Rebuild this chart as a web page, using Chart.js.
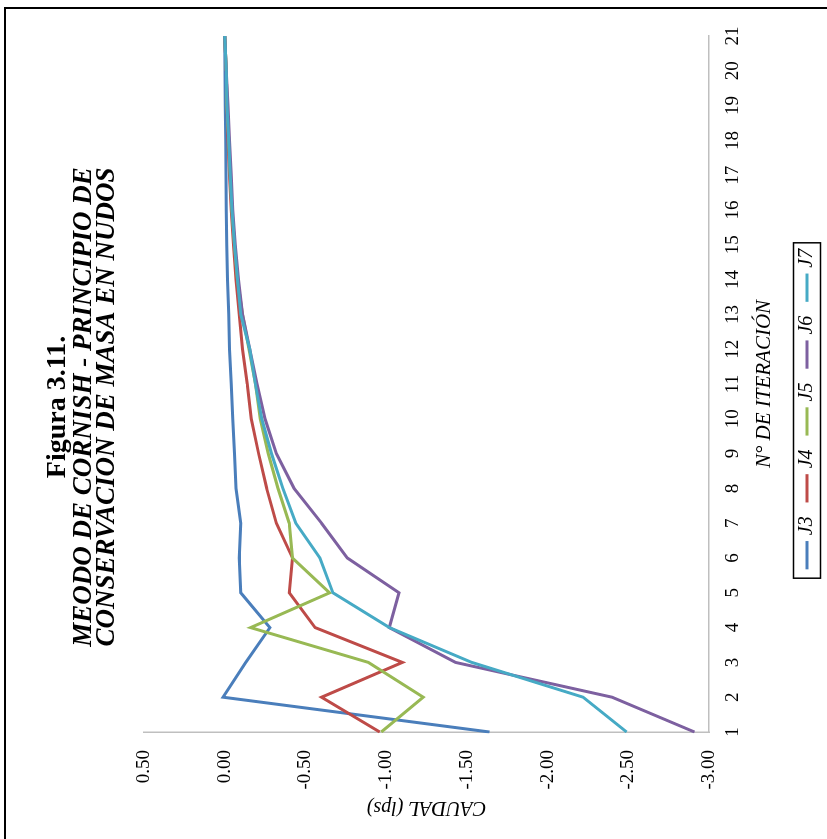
<!DOCTYPE html>
<html>
<head>
<meta charset="utf-8">
<script src="https://cdn.jsdelivr.net/npm/chart.js@4.4.1/dist/chart.umd.min.js"></script>
<style>
    html, body { margin: 0; padding: 0; background: #fff; overflow: hidden; }
    /* chart is drawn upright, then turned a quarter to the left like the scan */
    #wrap {
        position: absolute;
        left: 0; top: 0;
        width: 839px; height: 827px;
        transform-origin: top left;
        transform: translateY(839px) rotate(-90deg);
        background: #fff;
    }
    #frame {
        position: absolute;
        top: 4px; right: 7px;
        width: 900px; height: 900px;
        border-top: 2px solid #000;
        border-right: 2px solid #000;
        pointer-events: none;
    }
    canvas { position: absolute; left: 0; top: 0; }
</style>
</head>
<body>
<div id="wrap">
    <canvas id="cornishChart" width="839" height="827"></canvas>
    <div id="frame"></div>
</div>
<script>
// N° de iteración
const iterations = ['1', '2', '3', '4', '5', '6', '7', '8', '9', '10', '11',
    '12', '13', '14', '15', '16', '17', '18', '19', '20', '21'];

// caudal (lps) por nudo
const j3 = [-1.64, 0.01, -0.13, -0.28, -0.10, -0.09, -0.10, -0.07, -0.06, -0.05, -0.04,
    -0.03, -0.025, -0.017, -0.013, -0.01, -0.008, -0.006, -0.004, -0.002, 0.00];
const j4 = [-0.96, -0.60, -1.10, -0.56, -0.40, -0.42, -0.32, -0.26, -0.21, -0.165, -0.14,
    -0.11, -0.09, -0.07, -0.055, -0.04, -0.03, -0.02, -0.015, -0.01, 0.00];
const j5 = [-0.97, -1.23, -0.89, -0.16, -0.65, -0.42, -0.40, -0.33, -0.27, -0.22, -0.19,
    -0.15, -0.11, -0.08, -0.06, -0.045, -0.035, -0.025, -0.015, -0.01, 0.00];
const j6 = [-2.91, -2.40, -1.43, -1.02, -1.08, -0.76, -0.60, -0.43, -0.32, -0.25, -0.20,
    -0.155, -0.11, -0.085, -0.065, -0.05, -0.04, -0.03, -0.02, -0.01, 0.00];
const j7 = [-2.49, -2.22, -1.53, -1.02, -0.67, -0.59, -0.44, -0.36, -0.29, -0.23, -0.19,
    -0.155, -0.10, -0.08, -0.06, -0.045, -0.035, -0.025, -0.015, -0.01, 0.00];

const seriesNames = ['J3', 'J4', 'J5', 'J6', 'J7'];
const seriesValues = [j3, j4, j5, j6, j7];
const seriesColors = ['#4a7ebb', '#be4b48', '#98b954', '#7d60a0', '#46aac5'];

const yMin = -3.0;
const yMax = 0.5;
const yStep = 0.5;

document.addEventListener('DOMContentLoaded', function() {
    const ctx = document.getElementById('cornishChart');
    const serif = 'Liberation Serif, Times New Roman, serif';

    Chart.defaults.color = '#000';
    Chart.defaults.font.family = serif;

    // box round the legend, Excel style
    const legendFrame = {
        id: 'legendFrame',
        afterDraw(chart) {
            const boxes = chart.legend && chart.legend.legendHitBoxes;
            if (!boxes || !boxes.length) return;
            const first = boxes[0];
            const last = boxes[boxes.length - 1];
            const c = chart.ctx;
            c.save();
            c.strokeStyle = '#000';
            c.lineWidth = 1.5;
            c.strokeRect(first.left - 13, first.top + first.height / 2 - 13.5,
                (last.left + last.width + 6) - (first.left - 13), 27);
            c.restore();
        }
    };

    const datasets = seriesNames.map((name, i) => ({
        label: name,
        data: seriesValues[i],
        borderColor: seriesColors[i],
        backgroundColor: seriesColors[i],
        borderWidth: 3,
        pointRadius: 0,
        tension: 0,
        order: seriesNames.length - i,
        yAxisID: 'y'
    }));

    new Chart(ctx, {
        type: 'line',
        data: {
            labels: iterations,
            datasets: datasets
        },
        plugins: [legendFrame],
        options: {
            responsive: false,
            animation: false,
            layout: {
                padding: { left: 25, right: 0, top: 10, bottom: 0 }
            },
            scales: {
                x: {
                    offset: false,
                    grid: { display: false, drawTicks: false },
                    border: { display: true, color: '#bfbfbf', width: 1.5 },
                    ticks: {
                        font: { size: 19 },
                        padding: 13,
                        maxRotation: 0,
                        autoSkip: false
                    },
                    title: {
                        display: true,
                        text: 'N° DE ITERACIÓN',
                        font: { size: 21, style: 'italic' },
                        padding: { top: 0, bottom: 2 }
                    },
                    afterFit: (scale) => { scale.height = 70; }
                },
                y: {
                    min: yMin,
                    max: yMax,
                    grid: { display: false, drawTicks: false },
                    border: { display: true, color: '#bfbfbf', width: 1.5 },
                    ticks: {
                        stepSize: yStep,
                        font: { size: 19 },
                        padding: 18,
                        callback: (value) => value.toFixed(2)
                    },
                    title: {
                        display: true,
                        text: 'CAUDAL (lps)',
                        font: { size: 20, style: 'italic', lineHeight: 0.7 },
                        padding: { top: 0, bottom: 0 }
                    },
                    afterFit: (scale) => { scale.width = 82; }
                },
                // empty strip on the right so the plot ends where the scan does
                yRight: {
                    position: 'right',
                    display: true,
                    grid: { display: false, drawTicks: false },
                    border: { display: false },
                    ticks: { display: false },
                    afterFit: (scale) => { scale.width = 36; }
                }
            },
            plugins: {
                title: {
                    display: true,
                    text: 'Figura 3.11.',
                    font: { size: 28, weight: 'bold', lineHeight: 1 },
                    padding: { top: 34, bottom: 0 }
                },
                subtitle: {
                    display: true,
                    text: ['MEODO DE CORNISH - PRINCIPIO DE', 'CONSERVACION DE MASA EN NUDOS'],
                    font: { size: 27, weight: 'bold', style: 'italic', lineHeight: 0.87 },
                    padding: { top: 0, bottom: 25 }
                },
                legend: {
                    display: true,
                    position: 'bottom',
                    labels: {
                        usePointStyle: true,
                        pointStyle: 'line',
                        font: { size: 20, style: 'italic' },
                        padding: 18,
                        sort: (a, b) => a.datasetIndex - b.datasetIndex
                    }
                },
                tooltip: { enabled: false }
            }
        }
    });
});
</script>
</body>
</html>
